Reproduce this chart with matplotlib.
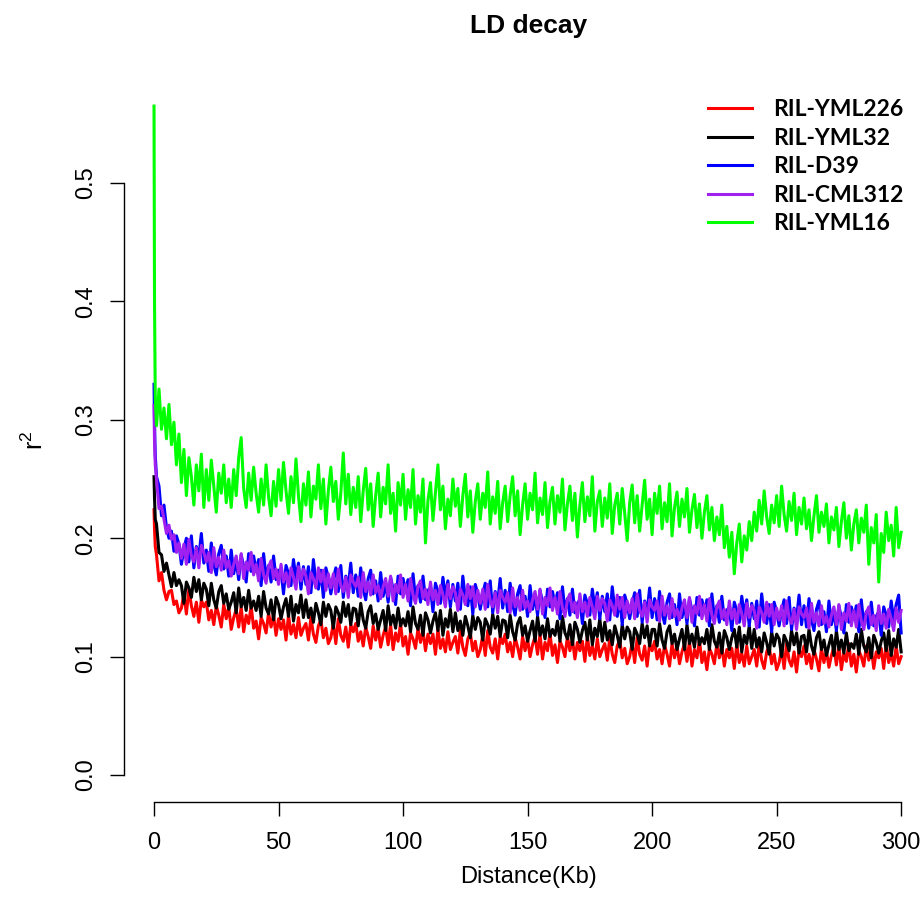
"""LD decay curves for five RIL populations (r^2 against pairwise distance)."""

import matplotlib
matplotlib.use("Agg")
import matplotlib.pyplot as plt

plt.rcParams["mathtext.fontset"] = "custom"
plt.rcParams["mathtext.rm"] = "Liberation Sans"

# distance (kb) of each averaged bin
DIST = [0, 0.2, 0.5] + list(range(1, 301))

LABELS = ["RIL-YML226", "RIL-YML32", "RIL-D39", "RIL-CML312", "RIL-YML16"]
COLORS = ["#ff0000", "#000000", "#0000ff", "#a020f0", "#00ff00"]

YML226 = [
    0.224, 0.208, 0.193,
    0.186, 0.164, 0.171, 0.156, 0.148, 0.155, 0.156, 0.144, 0.147, 0.137,
    0.141, 0.153, 0.136, 0.157, 0.143, 0.134, 0.146, 0.129, 0.148, 0.142,
    0.146, 0.131, 0.139, 0.127, 0.143, 0.135, 0.125, 0.144, 0.132, 0.142,
    0.123, 0.133, 0.140, 0.125, 0.142, 0.121, 0.135, 0.128, 0.143, 0.124,
    0.130, 0.115, 0.133, 0.128, 0.120, 0.137, 0.125, 0.135, 0.118, 0.132,
    0.123, 0.131, 0.114, 0.135, 0.119, 0.127, 0.116, 0.133, 0.118, 0.124,
    0.128, 0.114, 0.133, 0.119, 0.112, 0.126, 0.131, 0.116, 0.124, 0.111,
    0.116, 0.128, 0.111, 0.132, 0.118, 0.113, 0.125, 0.108, 0.127, 0.121,
    0.128, 0.113, 0.121, 0.109, 0.125, 0.117, 0.107, 0.126, 0.114, 0.124,
    0.108, 0.118, 0.125, 0.110, 0.127, 0.106, 0.120, 0.113, 0.128, 0.109,
    0.117, 0.102, 0.120, 0.115, 0.107, 0.124, 0.112, 0.122, 0.105, 0.119,
    0.111, 0.119, 0.102, 0.123, 0.107, 0.115, 0.104, 0.121, 0.106, 0.112,
    0.117, 0.103, 0.122, 0.108, 0.101, 0.115, 0.120, 0.105, 0.113, 0.100,
    0.106, 0.118, 0.101, 0.122, 0.108, 0.103, 0.115, 0.098, 0.117, 0.111,
    0.119, 0.104, 0.112, 0.100, 0.116, 0.108, 0.098, 0.117, 0.105, 0.115,
    0.100, 0.110, 0.117, 0.102, 0.119, 0.098, 0.112, 0.105, 0.120, 0.101,
    0.110, 0.095, 0.113, 0.108, 0.100, 0.117, 0.105, 0.115, 0.098, 0.112,
    0.105, 0.113, 0.096, 0.117, 0.101, 0.109, 0.098, 0.115, 0.100, 0.106,
    0.111, 0.097, 0.116, 0.102, 0.095, 0.109, 0.114, 0.099, 0.107, 0.094,
    0.100, 0.112, 0.095, 0.116, 0.102, 0.097, 0.109, 0.092, 0.111, 0.105,
    0.113, 0.098, 0.106, 0.094, 0.110, 0.102, 0.092, 0.111, 0.099, 0.109,
    0.094, 0.104, 0.111, 0.096, 0.113, 0.092, 0.106, 0.099, 0.114, 0.095,
    0.104, 0.089, 0.107, 0.102, 0.094, 0.111, 0.099, 0.109, 0.092, 0.106,
    0.099, 0.107, 0.090, 0.111, 0.095, 0.103, 0.092, 0.109, 0.094, 0.100,
    0.106, 0.092, 0.111, 0.097, 0.090, 0.104, 0.109, 0.094, 0.102, 0.089,
    0.095, 0.107, 0.090, 0.111, 0.097, 0.092, 0.104, 0.087, 0.106, 0.100,
    0.109, 0.094, 0.102, 0.090, 0.106, 0.098, 0.088, 0.107, 0.095, 0.105,
    0.091, 0.101, 0.108, 0.093, 0.110, 0.089, 0.103, 0.096, 0.111, 0.092,
    0.102, 0.087, 0.105, 0.100, 0.092, 0.109, 0.097, 0.107, 0.090, 0.104,
    0.099, 0.107, 0.090, 0.111, 0.095, 0.103, 0.092, 0.109, 0.094, 0.100,
]

YML32 = [
    0.252, 0.234, 0.216,
    0.212, 0.188, 0.186, 0.172, 0.179, 0.169, 0.159, 0.171, 0.160, 0.165,
    0.160, 0.145, 0.163, 0.158, 0.150, 0.167, 0.155, 0.165, 0.148, 0.162,
    0.157, 0.143, 0.162, 0.148, 0.141, 0.155, 0.160, 0.145, 0.153, 0.140,
    0.146, 0.154, 0.137, 0.158, 0.142, 0.150, 0.139, 0.156, 0.141, 0.147,
    0.139, 0.151, 0.134, 0.155, 0.141, 0.136, 0.148, 0.131, 0.150, 0.144,
    0.132, 0.142, 0.149, 0.134, 0.151, 0.130, 0.144, 0.137, 0.152, 0.133,
    0.148, 0.133, 0.141, 0.129, 0.145, 0.137, 0.127, 0.146, 0.134, 0.144,
    0.139, 0.124, 0.142, 0.137, 0.129, 0.146, 0.134, 0.144, 0.127, 0.141,
    0.140, 0.126, 0.145, 0.131, 0.124, 0.138, 0.143, 0.128, 0.136, 0.123,
    0.131, 0.139, 0.122, 0.143, 0.127, 0.135, 0.124, 0.141, 0.126, 0.132,
    0.126, 0.138, 0.121, 0.142, 0.128, 0.123, 0.135, 0.118, 0.137, 0.131,
    0.120, 0.130, 0.137, 0.122, 0.139, 0.118, 0.132, 0.125, 0.140, 0.121,
    0.137, 0.122, 0.130, 0.118, 0.134, 0.126, 0.116, 0.135, 0.123, 0.133,
    0.129, 0.114, 0.132, 0.127, 0.119, 0.136, 0.124, 0.134, 0.117, 0.131,
    0.130, 0.116, 0.135, 0.121, 0.114, 0.128, 0.133, 0.118, 0.126, 0.113,
    0.122, 0.130, 0.113, 0.134, 0.118, 0.126, 0.115, 0.132, 0.117, 0.123,
    0.118, 0.130, 0.113, 0.134, 0.120, 0.115, 0.127, 0.110, 0.129, 0.123,
    0.112, 0.122, 0.129, 0.114, 0.131, 0.110, 0.124, 0.117, 0.132, 0.113,
    0.129, 0.114, 0.122, 0.110, 0.126, 0.118, 0.108, 0.127, 0.115, 0.125,
    0.121, 0.106, 0.124, 0.119, 0.111, 0.128, 0.116, 0.126, 0.109, 0.123,
    0.123, 0.109, 0.128, 0.114, 0.107, 0.121, 0.126, 0.111, 0.119, 0.106,
    0.115, 0.123, 0.106, 0.127, 0.111, 0.119, 0.108, 0.125, 0.110, 0.116,
    0.111, 0.123, 0.106, 0.127, 0.113, 0.108, 0.120, 0.103, 0.122, 0.116,
    0.106, 0.116, 0.123, 0.108, 0.125, 0.104, 0.118, 0.111, 0.126, 0.107,
    0.123, 0.108, 0.116, 0.104, 0.120, 0.112, 0.102, 0.121, 0.109, 0.119,
    0.115, 0.100, 0.118, 0.113, 0.105, 0.122, 0.110, 0.120, 0.103, 0.117,
    0.118, 0.104, 0.123, 0.109, 0.102, 0.116, 0.121, 0.106, 0.114, 0.101,
    0.110, 0.118, 0.101, 0.122, 0.106, 0.114, 0.103, 0.120, 0.105, 0.111,
    0.107, 0.119, 0.102, 0.123, 0.109, 0.104, 0.116, 0.099, 0.118, 0.112,
    0.103, 0.113, 0.120, 0.105, 0.122, 0.101, 0.115, 0.108, 0.123, 0.104,
]

D39 = [
    0.330, 0.298, 0.270,
    0.252, 0.244, 0.219, 0.228, 0.209, 0.200, 0.206, 0.189, 0.202, 0.195,
    0.178, 0.191, 0.200, 0.180, 0.202, 0.175, 0.193, 0.184, 0.204, 0.179,
    0.190, 0.172, 0.196, 0.178, 0.169, 0.187, 0.194, 0.174, 0.185, 0.168,
    0.190, 0.170, 0.181, 0.165, 0.186, 0.176, 0.163, 0.187, 0.172, 0.185,
    0.172, 0.182, 0.160, 0.187, 0.166, 0.177, 0.163, 0.185, 0.165, 0.173,
    0.173, 0.153, 0.177, 0.170, 0.160, 0.182, 0.166, 0.179, 0.157, 0.176,
    0.161, 0.176, 0.154, 0.182, 0.163, 0.157, 0.173, 0.150, 0.175, 0.167,
    0.153, 0.166, 0.175, 0.155, 0.177, 0.150, 0.168, 0.159, 0.179, 0.154,
    0.169, 0.151, 0.175, 0.157, 0.148, 0.166, 0.173, 0.153, 0.164, 0.147,
    0.171, 0.151, 0.162, 0.146, 0.167, 0.157, 0.144, 0.168, 0.153, 0.166,
    0.155, 0.165, 0.143, 0.170, 0.149, 0.160, 0.146, 0.168, 0.148, 0.156,
    0.158, 0.138, 0.162, 0.155, 0.145, 0.167, 0.151, 0.164, 0.142, 0.161,
    0.147, 0.162, 0.140, 0.168, 0.149, 0.143, 0.159, 0.136, 0.161, 0.153,
    0.140, 0.153, 0.162, 0.142, 0.164, 0.137, 0.155, 0.146, 0.166, 0.141,
    0.156, 0.138, 0.162, 0.144, 0.135, 0.153, 0.160, 0.140, 0.151, 0.134,
    0.160, 0.140, 0.151, 0.135, 0.156, 0.146, 0.133, 0.157, 0.142, 0.155,
    0.144, 0.154, 0.132, 0.159, 0.138, 0.149, 0.135, 0.157, 0.137, 0.145,
    0.148, 0.128, 0.152, 0.145, 0.135, 0.157, 0.141, 0.154, 0.132, 0.151,
    0.138, 0.153, 0.131, 0.159, 0.140, 0.134, 0.150, 0.127, 0.152, 0.144,
    0.132, 0.145, 0.154, 0.134, 0.156, 0.129, 0.147, 0.138, 0.158, 0.133,
    0.149, 0.131, 0.155, 0.137, 0.128, 0.146, 0.153, 0.133, 0.144, 0.127,
    0.153, 0.133, 0.144, 0.128, 0.149, 0.139, 0.126, 0.150, 0.135, 0.148,
    0.138, 0.148, 0.126, 0.153, 0.132, 0.143, 0.129, 0.151, 0.131, 0.139,
    0.142, 0.122, 0.146, 0.139, 0.129, 0.151, 0.135, 0.148, 0.126, 0.145,
    0.132, 0.147, 0.125, 0.153, 0.134, 0.128, 0.144, 0.121, 0.146, 0.138,
    0.126, 0.139, 0.148, 0.128, 0.150, 0.123, 0.141, 0.132, 0.152, 0.127,
    0.143, 0.125, 0.149, 0.131, 0.122, 0.140, 0.147, 0.127, 0.138, 0.121,
    0.147, 0.127, 0.138, 0.122, 0.143, 0.133, 0.120, 0.144, 0.129, 0.142,
    0.133, 0.143, 0.121, 0.148, 0.127, 0.138, 0.124, 0.146, 0.126, 0.134,
    0.138, 0.118, 0.142, 0.135, 0.125, 0.147, 0.131, 0.144, 0.152, 0.120,
]

CML312 = [
    0.312, 0.282, 0.262,
    0.250, 0.225, 0.227, 0.216, 0.204, 0.211, 0.199, 0.203, 0.188, 0.196,
    0.183, 0.195, 0.178, 0.199, 0.185, 0.180, 0.192, 0.175, 0.194, 0.188,
    0.180, 0.188, 0.171, 0.192, 0.176, 0.184, 0.173, 0.190, 0.175, 0.181,
    0.168, 0.178, 0.185, 0.170, 0.187, 0.166, 0.180, 0.173, 0.188, 0.169,
    0.178, 0.164, 0.183, 0.169, 0.162, 0.176, 0.181, 0.166, 0.174, 0.161,
    0.178, 0.163, 0.171, 0.159, 0.175, 0.167, 0.157, 0.176, 0.164, 0.174,
    0.168, 0.153, 0.171, 0.166, 0.158, 0.175, 0.163, 0.173, 0.156, 0.170,
    0.158, 0.170, 0.153, 0.174, 0.160, 0.155, 0.167, 0.150, 0.169, 0.163,
    0.159, 0.167, 0.150, 0.171, 0.155, 0.163, 0.152, 0.169, 0.154, 0.160,
    0.149, 0.159, 0.166, 0.151, 0.168, 0.147, 0.161, 0.154, 0.169, 0.150,
    0.161, 0.147, 0.166, 0.152, 0.145, 0.159, 0.164, 0.149, 0.157, 0.144,
    0.163, 0.148, 0.156, 0.144, 0.160, 0.152, 0.142, 0.161, 0.149, 0.159,
    0.154, 0.139, 0.157, 0.152, 0.144, 0.161, 0.149, 0.159, 0.142, 0.156,
    0.145, 0.157, 0.140, 0.161, 0.147, 0.142, 0.154, 0.137, 0.156, 0.150,
    0.146, 0.154, 0.137, 0.158, 0.142, 0.150, 0.139, 0.156, 0.141, 0.147,
    0.138, 0.148, 0.155, 0.140, 0.157, 0.136, 0.150, 0.143, 0.158, 0.139,
    0.150, 0.136, 0.155, 0.141, 0.134, 0.148, 0.153, 0.138, 0.146, 0.133,
    0.153, 0.138, 0.146, 0.134, 0.150, 0.142, 0.132, 0.151, 0.139, 0.149,
    0.145, 0.130, 0.148, 0.143, 0.135, 0.152, 0.140, 0.150, 0.133, 0.147,
    0.137, 0.149, 0.132, 0.153, 0.139, 0.134, 0.146, 0.129, 0.148, 0.142,
    0.139, 0.147, 0.130, 0.151, 0.135, 0.143, 0.132, 0.149, 0.134, 0.140,
    0.131, 0.141, 0.148, 0.133, 0.150, 0.129, 0.143, 0.136, 0.151, 0.132,
    0.144, 0.130, 0.149, 0.135, 0.128, 0.142, 0.147, 0.132, 0.140, 0.127,
    0.147, 0.132, 0.140, 0.128, 0.144, 0.136, 0.126, 0.145, 0.133, 0.143,
    0.139, 0.124, 0.142, 0.137, 0.129, 0.146, 0.134, 0.144, 0.127, 0.141,
    0.131, 0.143, 0.126, 0.147, 0.133, 0.128, 0.140, 0.123, 0.142, 0.136,
    0.133, 0.141, 0.124, 0.145, 0.129, 0.137, 0.126, 0.143, 0.128, 0.134,
    0.125, 0.135, 0.142, 0.127, 0.144, 0.123, 0.137, 0.130, 0.145, 0.126,
    0.139, 0.125, 0.144, 0.130, 0.123, 0.137, 0.142, 0.127, 0.135, 0.122,
    0.143, 0.128, 0.136, 0.124, 0.140, 0.132, 0.122, 0.141, 0.129, 0.139,
]

YML16 = [
    0.565, 0.400, 0.318,
    0.295, 0.326, 0.292, 0.310, 0.284, 0.313, 0.279, 0.298, 0.262, 0.288,
    0.247, 0.275, 0.236, 0.268, 0.252, 0.228, 0.262, 0.240, 0.271, 0.226,
    0.258, 0.232, 0.266, 0.244, 0.222, 0.255, 0.238, 0.262, 0.230, 0.250,
    0.226, 0.258, 0.236, 0.268, 0.285, 0.242, 0.226, 0.255, 0.232, 0.260,
    0.238, 0.222, 0.250, 0.228, 0.262, 0.235, 0.219, 0.248, 0.227, 0.258,
    0.232, 0.264, 0.240, 0.221, 0.252, 0.230, 0.267, 0.236, 0.214, 0.246,
    0.228, 0.256, 0.218, 0.244, 0.233, 0.262, 0.225, 0.250, 0.212, 0.240,
    0.260, 0.231, 0.248, 0.216, 0.238, 0.272, 0.229, 0.254, 0.220, 0.243,
    0.226, 0.252, 0.214, 0.240, 0.259, 0.224, 0.246, 0.210, 0.236, 0.255,
    0.218, 0.243, 0.229, 0.262, 0.221, 0.238, 0.206, 0.247, 0.228, 0.254,
    0.216, 0.241, 0.226, 0.258, 0.212, 0.236, 0.222, 0.250, 0.196, 0.232,
    0.247, 0.215, 0.238, 0.262, 0.224, 0.244, 0.208, 0.233, 0.219, 0.250,
    0.227, 0.242, 0.210, 0.236, 0.254, 0.218, 0.240, 0.205, 0.231, 0.246,
    0.216, 0.238, 0.226, 0.256, 0.212, 0.235, 0.221, 0.248, 0.208, 0.230,
    0.244, 0.214, 0.236, 0.252, 0.219, 0.240, 0.203, 0.228, 0.246, 0.216,
    0.238, 0.224, 0.255, 0.213, 0.234, 0.220, 0.247, 0.209, 0.231, 0.243,
    0.212, 0.236, 0.222, 0.250, 0.207, 0.229, 0.244, 0.215, 0.238, 0.201,
    0.228, 0.247, 0.214, 0.235, 0.219, 0.252, 0.206, 0.231, 0.240, 0.210,
    0.234, 0.217, 0.246, 0.204, 0.228, 0.238, 0.212, 0.242, 0.221, 0.198,
    0.230, 0.245, 0.213, 0.236, 0.206, 0.228, 0.249, 0.216, 0.233, 0.203,
    0.238, 0.221, 0.244, 0.208, 0.230, 0.214, 0.246, 0.202, 0.226, 0.239,
    0.210, 0.233, 0.218, 0.242, 0.205, 0.224, 0.237, 0.209, 0.229, 0.200,
    0.222, 0.236, 0.207, 0.226, 0.198, 0.218, 0.203, 0.228, 0.192, 0.210,
    0.184, 0.205, 0.170, 0.196, 0.212, 0.180, 0.202, 0.190, 0.214, 0.198,
    0.222, 0.206, 0.232, 0.212, 0.240, 0.218, 0.204, 0.228, 0.213, 0.236,
    0.210, 0.244, 0.220, 0.206, 0.231, 0.215, 0.238, 0.203, 0.226, 0.212,
    0.234, 0.208, 0.224, 0.198, 0.219, 0.236, 0.205, 0.222, 0.210, 0.229,
    0.196, 0.218, 0.207, 0.226, 0.193, 0.214, 0.230, 0.200, 0.219, 0.190,
    0.212, 0.224, 0.196, 0.217, 0.205, 0.228, 0.178, 0.209, 0.196, 0.220,
    0.163, 0.204, 0.188, 0.222, 0.198, 0.211, 0.185, 0.226, 0.192, 0.205,
]

SERIES = [YML226, YML32, D39, CML312, YML16]

FONT = "Liberation Sans"

fig = plt.figure(figsize=(9.22, 9.14), dpi=100)
ax = fig.add_axes([0.1345, 0.1225, 0.8753, 0.7910])

for label, color, vals in zip(LABELS, COLORS, SERIES):
    ax.plot(DIST, vals, color=color, lw=2.2, label=label)

ax.set_xlim(-12.05, 312.0)
ax.set_ylim(-0.0228, 0.5878)

for side in ("top", "right"):
    ax.spines[side].set_visible(False)
ax.spines["left"].set_bounds(0, 0.5)
ax.spines["bottom"].set_bounds(0, 300)
ax.spines["left"].set_linewidth(1.0)
ax.spines["bottom"].set_linewidth(1.0)

ax.set_xticks(range(0, 301, 50))
ax.set_yticks([0, 0.1, 0.2, 0.3, 0.4, 0.5])
ax.set_yticklabels(["0.0", "0.1", "0.2", "0.3", "0.4", "0.5"],
                   rotation=90, va="center")
ax.tick_params(axis="both", length=10.3, width=1.0, labelsize=17)
ax.tick_params(axis="x", pad=11)
ax.tick_params(axis="y", pad=9.4)
for t in ax.get_xticklabels() + ax.get_yticklabels():
    t.set_family(FONT)

fig.text(0.573, 0.972, "LD decay", ha="center", va="center",
         fontsize=19, fontweight="bold", family=FONT)
fig.text(0.573, 0.040, "Distance(Kb)", ha="center", va="center",
         fontsize=17, family=FONT)
fig.text(0.038, 0.518, r"$\mathrm{r}^{2}$", ha="center", va="center",
         rotation=90, fontsize=18)

leg = fig.legend(loc="upper left", bbox_to_anchor=(0.7456, 0.9138), frameon=False,
                 handlelength=1.92, handletextpad=0.92, labelspacing=0.325,
                 prop={"family": "Lato", "weight": "bold", "size": 16.5})
for line in leg.get_lines():
    line.set_linewidth(2.2)

fig.savefig("out.png", dpi=100)
